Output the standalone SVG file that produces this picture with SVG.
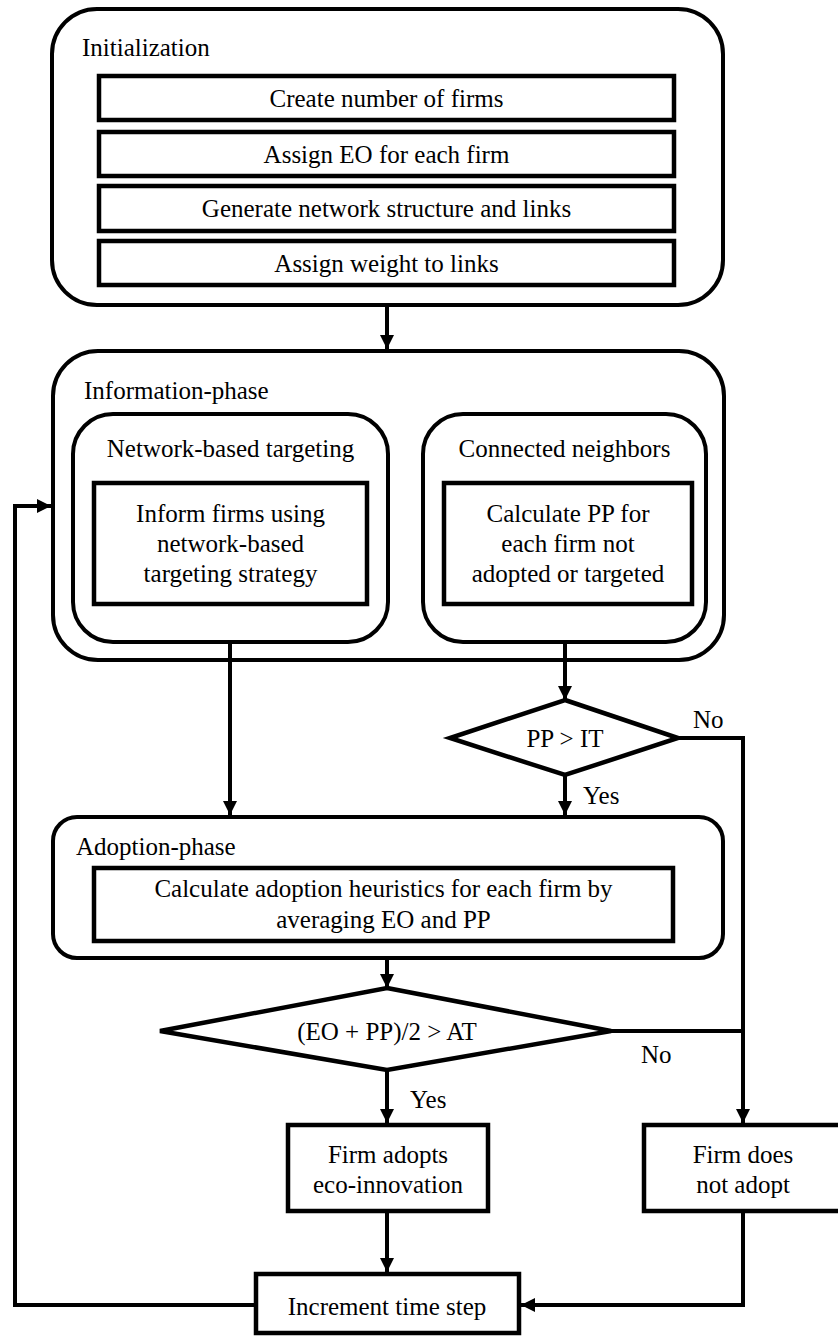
<svg xmlns="http://www.w3.org/2000/svg" width="838" height="1336" viewBox="0 0 838 1336">
<defs>
<style>
.box{fill:#fff;stroke:#000;stroke-width:4.5}
.grp{fill:none;stroke:#000;stroke-width:4}
text{font-family:'Liberation Serif','Times New Roman',Tinos,'Nimbus Roman','Nimbus Roman No9 L','Noto Serif','FreeSerif','DejaVu Serif',Times,serif;font-size:25px;fill:#000}
.c{text-anchor:middle}
.ln{fill:none;stroke:#000;stroke-width:4;stroke-linejoin:miter}
</style>
<marker id="ah" viewBox="0 0 14 14" refX="14" refY="7" markerWidth="14" markerHeight="14" markerUnits="userSpaceOnUse" orient="auto">
<path d="M0,0 L14,7 L0,14 z" fill="#000"/>
</marker>
</defs>
<rect width="838" height="1336" fill="#fff"/>

<g id="initialization">
<rect class="grp" x="52" y="9" width="671" height="296" rx="45" ry="45"/>
<text x="82" y="56">Initialization</text>
</g>
<g id="create-firms">
<rect class="box" x="99" y="76" width="575" height="44"/>
<text class="c" x="386.5" y="107">Create number of firms</text>
</g>
<g id="assign-eo">
<rect class="box" x="99" y="132" width="575" height="44"/>
<text class="c" x="386.5" y="163">Assign EO for each firm</text>
</g>
<g id="generate-network">
<rect class="box" x="99" y="186" width="575" height="45"/>
<text class="c" x="386.5" y="217">Generate network structure and links</text>
</g>
<g id="assign-weight">
<rect class="box" x="99" y="241" width="575" height="44"/>
<text class="c" x="386.5" y="272">Assign weight to links</text>
</g>

<g id="information-phase">
<rect class="grp" x="53" y="351" width="671" height="309" rx="45" ry="45"/>
<text x="84" y="399">Information-phase</text>
</g>
<g id="network-targeting">
<rect class="grp" x="73" y="414" width="315" height="228" rx="40" ry="40"/>
<text class="c" x="230.5" y="457">Network-based targeting</text>
</g>
<g id="inform-firms">
<rect class="box" x="94" y="483" width="273" height="121"/>
<text class="c" x="230.5" y="522">Inform firms using</text>
<text class="c" x="230.5" y="552">network-based</text>
<text class="c" x="230.5" y="582">targeting strategy</text>
</g>
<g id="connected-neighbors">
<rect class="grp" x="423" y="414" width="283" height="228" rx="40" ry="40"/>
<text class="c" x="564.5" y="457">Connected neighbors</text>
</g>
<g id="calculate-pp">
<rect class="box" x="444" y="483" width="248" height="121"/>
<text class="c" x="568" y="522">Calculate PP for</text>
<text class="c" x="568" y="552">each firm not</text>
<text class="c" x="568" y="582">adopted or targeted</text>
</g>

<g id="pp-it">
<polygon class="box" points="565,700 678,738 565,775 450,738"/>
<text class="c" x="565" y="747">PP &gt; IT</text>
</g>

<g id="adoption-phase">
<rect class="grp" x="53" y="817" width="670" height="141" rx="24" ry="24"/>
<text x="76" y="855">Adoption-phase</text>
</g>
<g id="calculate-heuristics">
<rect class="box" x="94" y="868" width="579" height="73"/>
<text class="c" x="383.5" y="897">Calculate adoption heuristics for each firm by</text>
<text class="c" x="383.5" y="928">averaging EO and PP</text>
</g>

<g id="at-decision">
<polygon class="box" points="387,988 611,1031 387,1070 160,1031"/>
<text class="c" x="387" y="1040">(EO + PP)/2 &gt; AT</text>
</g>

<g id="firm-adopts">
<rect class="box" x="288" y="1125" width="200" height="86"/>
<text class="c" x="388" y="1163">Firm adopts</text>
<text class="c" x="388" y="1193">eco-innovation</text>
</g>
<g id="firm-not-adopt">
<rect class="box" x="644" y="1125" width="200" height="86"/>
<text class="c" x="743" y="1163">Firm does</text>
<text class="c" x="743" y="1193">not adopt</text>
</g>
<g id="increment">
<rect class="box" x="256" y="1274" width="263" height="59"/>
<text class="c" x="387" y="1315">Increment time step</text>
</g>

<g id="connectors">
<path class="ln" d="M387,305 V349" marker-end="url(#ah)"/>
<path class="ln" d="M256,1305 H15 V506 H51" marker-end="url(#ah)"/>
<path class="ln" d="M230,642 V815" marker-end="url(#ah)"/>
<path class="ln" d="M565,642 V700" marker-end="url(#ah)"/>
<path class="ln" d="M565,775 V815" marker-end="url(#ah)"/>
<path class="ln" d="M678,738 H743 V1123" marker-end="url(#ah)"/>
<path class="ln" d="M387,958 V988" marker-end="url(#ah)"/>
<path class="ln" d="M611,1031 H743"/>
<path class="ln" d="M387,1070 V1123" marker-end="url(#ah)"/>
<path class="ln" d="M387,1211 V1272" marker-end="url(#ah)"/>
<path class="ln" d="M743,1211 V1305 H521" marker-end="url(#ah)"/>
<text x="693" y="728">No</text>
<text x="583" y="804">Yes</text>
<text x="641" y="1063">No</text>
<text x="410" y="1108">Yes</text>
</g>
</svg>
